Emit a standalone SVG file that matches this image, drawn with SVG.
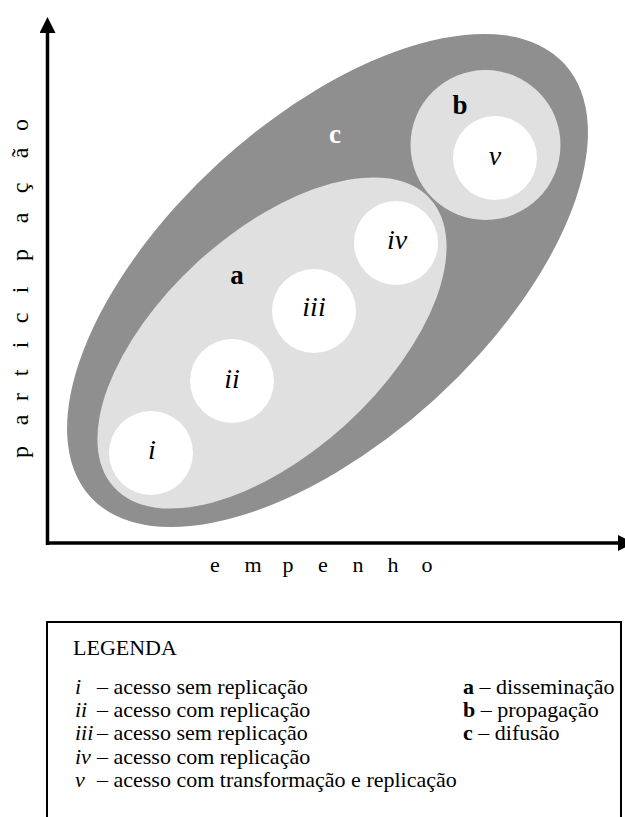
<svg xmlns="http://www.w3.org/2000/svg" width="625" height="817" viewBox="0 0 625 817" font-family="'Liberation Serif', 'Times New Roman', Times, 'DejaVu Serif', serif">
  <style>
    text { fill: #000; }
    .lbl { font-weight: bold; font-size: 27px; text-anchor: middle; }
    .num { font-style: italic; font-size: 28px; text-anchor: middle; }
    .axis-txt { font-size: 22px; text-anchor: middle; }
    .y-txt { font-size: 24px; text-anchor: middle; }
    .leg { font-size: 22px; }
    .dark { fill: #8f8f8f; }
    .light { fill: #e0e0e0; }
    .hole { fill: #ffffff; }
    .axis { stroke: #000; stroke-width: 3.5; fill: none; }
  </style>
  <defs>
    <marker id="arrow" viewBox="0 0 16 16" refX="0" refY="8" markerWidth="16" markerHeight="16" markerUnits="userSpaceOnUse" orient="auto">
      <path d="M0,0 L16,8 L0,16 Z" fill="#000"/>
    </marker>
  </defs>

  <rect width="625" height="817" fill="#fff"/>

  <!-- c: diffusion -->
  <g id="c">
    <ellipse class="dark" cx="327.5" cy="280.5" rx="321" ry="160" transform="rotate(-42.4 327.5 280.5)"/>
    <text class="lbl" x="335" y="143" style="fill:#fff">c</text>
  </g>

  <!-- a: dissemination -->
  <g id="a">
    <ellipse class="light" cx="272" cy="343" rx="214" ry="110" transform="rotate(-42.4 272 343)"/>
    <text class="lbl" x="237" y="284">a</text>
  </g>

  <!-- b: propagation -->
  <g id="b">
    <circle class="light" cx="485.5" cy="145" r="75"/>
    <text class="lbl" x="460" y="114">b</text>
  </g>

  <g id="i">
    <circle class="hole" cx="151" cy="453" r="42"/>
    <text class="num" x="152" y="459">i</text>
  </g>
  <g id="ii">
    <circle class="hole" cx="232" cy="381" r="42"/>
    <text class="num" x="232" y="388">ii</text>
  </g>
  <g id="iii">
    <circle class="hole" cx="314" cy="311" r="42"/>
    <text class="num" x="314" y="316">iii</text>
  </g>
  <g id="iv">
    <circle class="hole" cx="396" cy="243" r="42"/>
    <text class="num" x="397" y="249">iv</text>
  </g>
  <g id="v">
    <circle class="hole" cx="495" cy="158" r="42"/>
    <text class="num" x="495" y="165">v</text>
  </g>

  <!-- axes -->
  <g id="connectors">
    <line class="axis" x1="47.5" y1="545" x2="47.5" y2="33" marker-end="url(#arrow)"/>
    <line class="axis" x1="46" y1="543" x2="618" y2="543" marker-end="url(#arrow)"/>
  </g>

  <g id="axis-labels">
    <text class="axis-txt" x="215 253 288 323 358 393 427" y="572">empenho</text>
    <text class="y-txt" transform="translate(28,0) rotate(-90)" x="-452 -420 -397 -373 -345 -318 -290 -255 -218 -188 -153 -125" y="0">participação</text>
  </g>

  <!-- legend -->
  <g id="legend">
    <rect x="47" y="622" width="574" height="220" fill="none" stroke="#000" stroke-width="2"/>
    <text class="leg" x="73" y="655">LEGENDA</text>
    <text class="leg" y="694"><tspan x="75" font-style="italic">i</tspan><tspan x="97">– acesso sem replicação</tspan></text>
    <text class="leg" y="717"><tspan x="75" font-style="italic">ii</tspan><tspan x="97">– acesso com replicação</tspan></text>
    <text class="leg" y="740"><tspan x="75" font-style="italic">iii</tspan><tspan x="97">– acesso sem replicação</tspan></text>
    <text class="leg" y="764"><tspan x="75" font-style="italic">iv</tspan><tspan x="97">– acesso com replicação</tspan></text>
    <text class="leg" y="787"><tspan x="75" font-style="italic">v</tspan><tspan x="97">– acesso com transformação e replicação</tspan></text>
    <text class="leg" y="694"><tspan x="463" font-weight="bold">a</tspan> – disseminação</text>
    <text class="leg" y="717"><tspan x="463" font-weight="bold">b</tspan> – propagação</text>
    <text class="leg" y="740"><tspan x="463" font-weight="bold">c</tspan> – difusão</text>
  </g>
</svg>
